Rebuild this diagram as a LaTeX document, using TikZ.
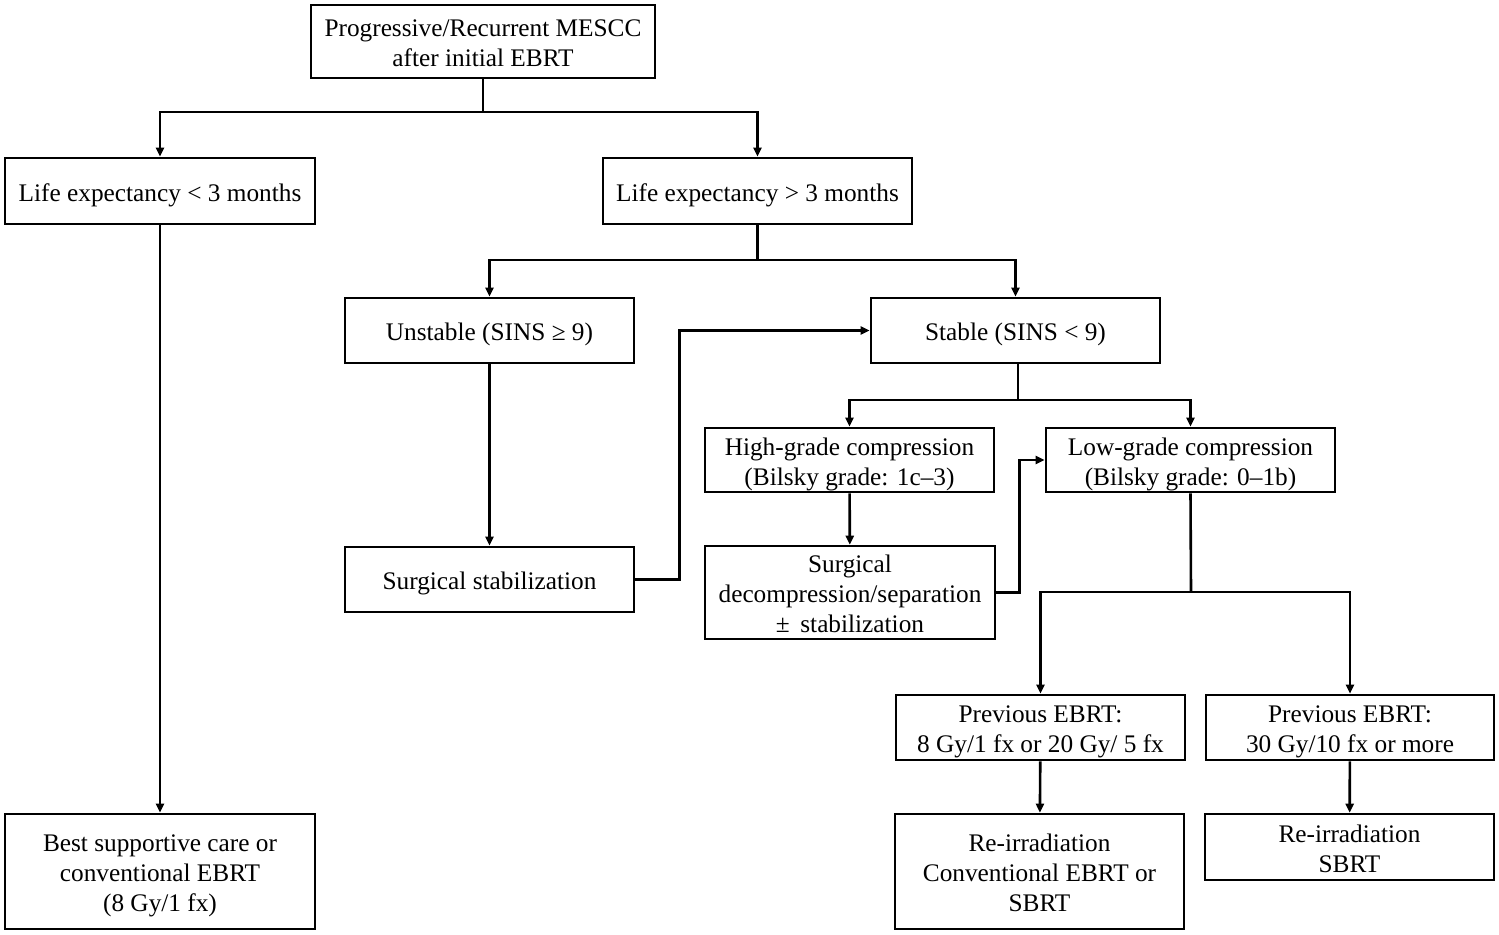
\documentclass[tikz,border=0pt]{standalone}
\usepackage{fontspec}
\setmainfont{Liberation Serif}
\usetikzlibrary{arrows.meta}
\newcommand{\bxt}[1]{\raisebox{-2pt}[\height][\depth]{\begin{tabular}{@{}c@{}}#1\end{tabular}}}
\begin{document}
\begin{tikzpicture}[x=0.5pt,y=-0.5pt,
  box/.style={draw,line width=1.3pt,inner sep=0pt,font=\fontsize{12.65}{15}\selectfont},
  line/.style={line width=1.3pt},
  arr/.style={line width=1.3pt,-{Triangle[length=4.5pt,width=4pt]}}]
\useasboundingbox (0,0) rectangle (1499,934);
\node[box,minimum width=172pt,minimum height=36.5pt] (top) at (483,41.5) {\bxt{Progressive/Recurrent MESCC\\after initial EBRT}};
\node[box,minimum width=155pt,minimum height=33pt] (lt3) at (160,191) {\bxt{Life expectancy {\textless} 3 months}};
\node[box,minimum width=154.5pt,minimum height=33pt] (gt3) at (757.5,191) {\bxt{Life expectancy {\textgreater} 3 months}};
\node[box,minimum width=144.5pt,minimum height=32.5pt] (unst) at (489.5,330.5) {\bxt{Unstable (SINS ≥ 9)}};
\node[box,minimum width=144.5pt,minimum height=32.5pt] (stab) at (1015.5,330.5) {\bxt{Stable (SINS {\textless} 9)}};
\node[box,minimum width=144.5pt,minimum height=32.5pt] (ss) at (489.5,579.5) {\bxt{Surgical stabilization}};
\node[box,minimum width=144.5pt,minimum height=32pt] (hg) at (849.5,460) {\bxt{High-grade compression\\(Bilsky grade: 1c–3)}};
\node[box,minimum width=144.5pt,minimum height=32pt] (lg) at (1190.5,460) {\bxt{Low-grade compression\\(Bilsky grade: 0–1b)}};
\node[box,minimum width=145pt,minimum height=46.5pt] (sd) at (850,592.5) {\bxt{Surgical\\decompression/separation\\± \,stabilization}};
\node[box,minimum width=144.5pt,minimum height=32.5pt] (p8) at (1040.5,727.5) {\bxt{Previous EBRT:\\8 Gy/1 fx or 20 Gy/ 5 fx}};
\node[box,minimum width=144pt,minimum height=32.5pt] (p30) at (1350,727.5) {\bxt{Previous EBRT:\\30 Gy/10 fx or more}};
\node[box,minimum width=155pt,minimum height=57.5pt] (bsc) at (160,871.5) {\bxt{Best supportive care or\\conventional EBRT\\(8 Gy/1 fx)}};
\node[box,minimum width=144.5pt,minimum height=57.5pt] (rc) at (1039.5,871.5) {\bxt{Re-irradiation\\Conventional EBRT or\\SBRT}};
\node[box,minimum width=144.5pt,minimum height=33pt] (rs) at (1349.5,847) {\bxt{Re-irradiation\\SBRT}};
\coordinate (j1) at (483,112);
\coordinate (j2) at (757.5,260);
\coordinate (j3) at (1018,400);
\coordinate (j4) at (1191,592);
\draw[line] (top.south) -- (j1);
\draw[arr] (j1) -| (lt3);
\draw[arr] (j1) -| (gt3);
\draw[line] (gt3.south) -- (j2);
\draw[arr] (j2) -| (unst);
\draw[arr] (j2) -| (stab);
\draw[arr] (lt3) -- (bsc);
\draw[arr] (unst) -- (ss);
\draw[arr] (ss.east) -- ++(44,0) |- (stab.west);
\draw[line] (stab.south -| j3) -- (j3);
\draw[arr] (j3) -| (hg);
\draw[arr] (j3) -| (lg);
\draw[arr] (hg) -- (sd);
\draw[arr] (sd.east) -- ++(23,0) |- (lg.west);
\draw[line] (lg.south) -- (j4);
\draw[arr] (j4) -| (p8);
\draw[arr] (j4) -| (p30);
\draw[arr] (p8) -- (rc);
\draw[arr] (p30) -- (rs);
\end{tikzpicture}
\end{document}
